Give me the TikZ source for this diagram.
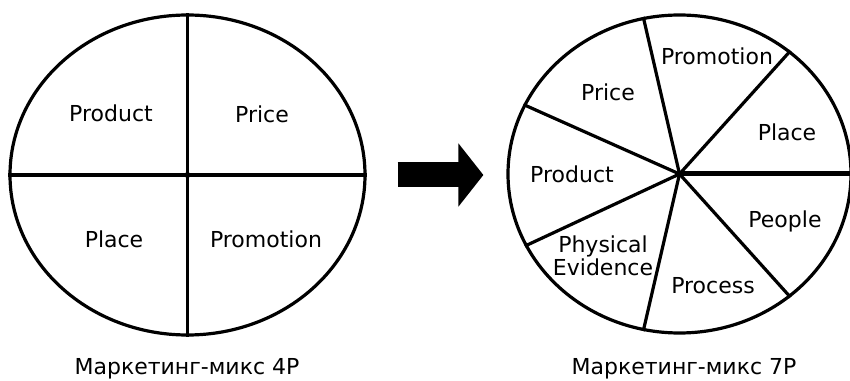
\documentclass[tikz,border=0pt]{standalone}
\usepackage{fontspec}
\setmainfont{DejaVu Sans}
\usetikzlibrary{shapes.geometric,arrows.meta}
\tikzset{
  pie/.style={draw, ellipse, inner sep=0pt, line width=3.2pt
  },
  spoke/.style={line width=3.2pt
  },
  lbl/.style={anchor=base, inner sep=0pt, align=center,
    font=\fontsize{22}{23.5}\selectfont
  },
  bigarrow/.style={line width=25pt, -{Triangle[length=25pt,width=62pt]}
  }
}

\begin{document}
\begin{tikzpicture}[x=1pt,y=1pt]
  \useasboundingbox (0,0) rectangle (850,380);
  \begin{scope}
   % four parts
   \node[pie, minimum width=355pt, minimum height=320pt] (mix4) at (187.5,205) {};
   \draw[spoke] (mix4.north) -- (mix4.south);
   \draw[spoke] (mix4.west) -- (mix4.center);
   \draw[spoke, line width=4.5pt] (mix4.center) -- (mix4.east);
   \fill (mix4.center) circle (3);

   \node[lbl] (product4) at (111,258) {Product};
   \node[lbl] (price4) at (262,257) {Price};
   \node[lbl] (place4) at (114,132) {Place};
   \node[lbl] (promo4) at (266,132) {Promotion};
   \node[lbl] (cap4) at (187,6) {Маркетинг-микс 4P};
  \end{scope}
  \begin{scope}
   % seven parts
   \node[pie, minimum width=343pt, minimum height=318pt] (mix7) at (679.5,206) {};
   \foreach \a in {48,103,156,205,257,312}
     \draw[spoke] (mix7.center) -- (mix7.\a);
   \draw[spoke, line width=5pt] (mix7.center) -- (mix7.east);

   \node[lbl] (promo7) at (717,315) {Promotion};
   \node[lbl] (price7) at (608,279) {Price};
   \node[lbl] (place7) at (787,239) {Place};
   \node[lbl] (product7) at (572,197) {Product};
   \node[lbl] (people7) at (785,152) {People};
   \node[lbl] (evid7) at (603,104) {Physical\\Evidence};
   \node[lbl] (process7) at (713,87) {Process};
   \node[lbl] (cap7) at (684,6) {Маркетинг-микс 7P};
  \end{scope}

  \draw[bigarrow] ([xshift=31pt]mix4.east) -- ([xshift=-23pt]mix4.east -| mix7.west);
\end{tikzpicture}
\end{document}
